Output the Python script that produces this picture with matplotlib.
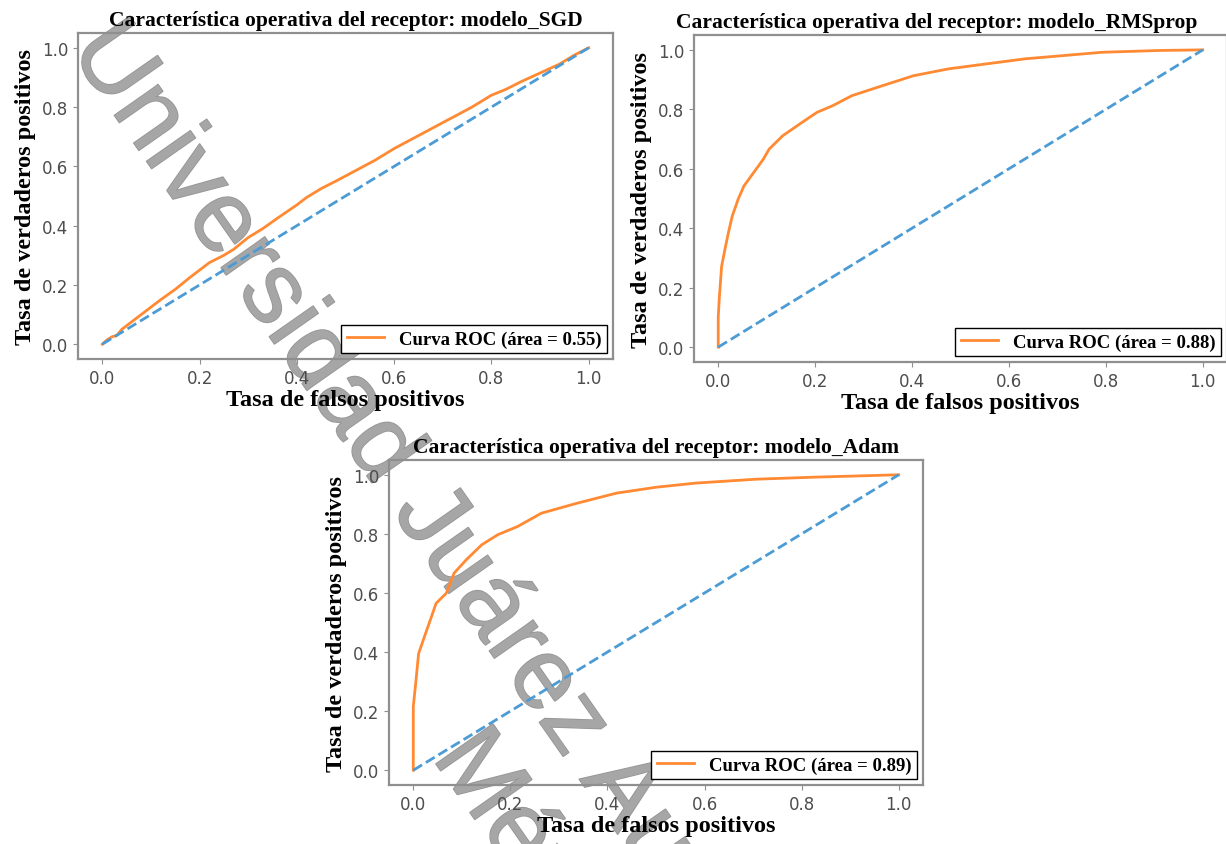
import matplotlib
matplotlib.use("Agg")
import matplotlib.pyplot as plt
import matplotlib.patheffects as pe

# curvas ROC
sgd_fpr = [0.0, 0.01, 0.02, 0.03, 0.04, 0.06, 0.08, 0.10, 0.12, 0.15, 0.18, 0.20, 0.22, 0.25,
           0.27, 0.30, 0.33, 0.36, 0.40, 0.42, 0.45, 0.48, 0.52, 0.56, 0.60, 0.64, 0.68, 0.72,
           0.76, 0.80, 0.83, 0.86, 0.90, 0.94, 0.97, 1.0]
sgd_tpr = [0.0, 0.015, 0.025, 0.03, 0.05, 0.075, 0.10, 0.125, 0.15, 0.185, 0.225, 0.25, 0.275, 0.30,
           0.32, 0.36, 0.39, 0.425, 0.47, 0.495, 0.525, 0.55, 0.585, 0.62, 0.66, 0.695, 0.73, 0.765,
           0.80, 0.84, 0.86, 0.885, 0.915, 0.945, 0.975, 1.0]

rms_fpr = [0.0, 0.0, 0.002, 0.007, 0.014, 0.021, 0.029, 0.041, 0.053, 0.073, 0.093, 0.105, 0.133,
           0.173, 0.204, 0.236, 0.276, 0.34, 0.403, 0.475, 0.554, 0.634, 0.714, 0.793, 0.912, 1.0]
rms_tpr = [0.0, 0.10, 0.16, 0.272, 0.33, 0.385, 0.441, 0.497, 0.542, 0.587, 0.632, 0.666, 0.711,
           0.756, 0.79, 0.812, 0.846, 0.88, 0.913, 0.936, 0.953, 0.97, 0.981, 0.992, 0.998, 1.0]

adam_fpr = [0.0, 0.0, 0.005, 0.011, 0.023, 0.035, 0.047, 0.068, 0.084, 0.109, 0.141, 0.174, 0.215,
            0.264, 0.338, 0.419, 0.501, 0.583, 0.706, 0.828, 1.0]
adam_tpr = [0.0, 0.215, 0.294, 0.395, 0.452, 0.508, 0.565, 0.599, 0.667, 0.712, 0.763, 0.797, 0.825,
            0.87, 0.904, 0.938, 0.958, 0.972, 0.985, 0.992, 1.0]

modelos = ["modelo_SGD", "modelo_RMSprop", "modelo_Adam"]
areas = [0.55, 0.88, 0.89]
curvas = [(sgd_fpr, sgd_tpr), (rms_fpr, rms_tpr), (adam_fpr, adam_tpr)]

W, H = 1226, 845
fig = plt.figure(figsize=(W / 100, H / 100), dpi=100)

# cajas de ejes en pixeles: izquierda, arriba, derecha, abajo
cajas = [(78, 34, 613, 360), (694, 36, 1227, 363), (389, 461, 923, 786)]
titulo_x = [0.5, 0.456, 0.5]

serif = "Liberation Serif"

for i in range(3):
    l, t, r, b = cajas[i]
    ax = fig.add_axes([l / W, 1 - b / H, (r - l) / W, (b - t) / H])
    ax.patch.set_alpha(0)
    fpr, tpr = curvas[i]
    ax.plot(fpr, tpr, color="#ff8a33", lw=2,
            label="Curva ROC (área = %0.2f)" % areas[i])
    ax.plot([0, 1], [0, 1], color="#4b9bd5", lw=2, ls="--")
    ax.set_title("Característica operativa del receptor: " + modelos[i], x=titulo_x[i],
                 fontfamily=serif, fontweight="bold", fontsize=15.5, pad=6)
    ax.set_xlabel("Tasa de falsos positivos", fontfamily=serif, fontweight="bold", fontsize=17.5,
                  labelpad=2)
    ax.set_ylabel("Tasa de verdaderos positivos", fontfamily=serif, fontweight="bold", fontsize=17.5,
                  labelpad=4)
    for s in ax.spines.values():
        s.set_color("#8f8f8f")
        s.set_linewidth(1.6)
    ax.tick_params(colors="#8f8f8f", labelcolor="#4d4d4d", labelsize=12)
    leg = ax.legend(loc="lower right", fancybox=False, edgecolor="black", framealpha=1,
                    prop={"family": serif, "weight": "bold", "size": 13.5},
                    borderaxespad=0.3, borderpad=0.3)
    leg.get_frame().set_linewidth(1.0)

# marca de agua
fig.text(0.487, -0.012, "Universidad Juárez Autónoma de Tabasco.\nMéxico.",
         rotation=-55, rotation_mode="anchor", ha="center", va="center",
         multialignment="center", fontfamily="Liberation Sans", fontsize=73,
         color="#a6a6a6", alpha=0.9, zorder=-1,
         path_effects=[pe.withStroke(linewidth=1, foreground="#8a8a8a")])

fig.savefig("out.png", dpi=100)
